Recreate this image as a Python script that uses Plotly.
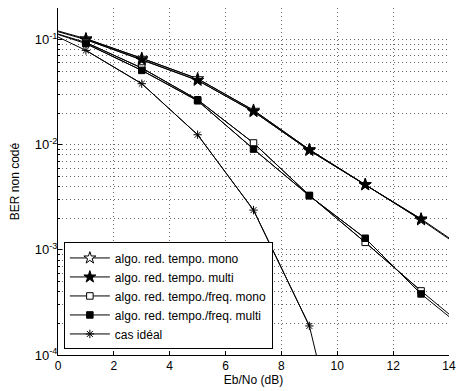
import math
import plotly.graph_objects as go

# ---------------- data ----------------
eb_no = [0, 1, 3, 5, 7, 9, 11, 13, 14]
ber_tempo_mono = [0.121, 0.102, 0.0665, 0.0425, 0.0213, 0.0090, 0.00418, 0.00193, 0.00127]
ber_tempo_multi = [0.119, 0.100, 0.0645, 0.0410, 0.0207, 0.00883, 0.00416, 0.00197, 0.00130]
ber_tf_mono = [0.113, 0.094, 0.0537, 0.0268, 0.0104, 0.0033, 0.00118, 0.000407, 0.000245]
ber_tf_multi = [0.112, 0.0916, 0.051, 0.0262, 0.0091, 0.00327, 0.00129, 0.000381, 0.000232]
eb_no_ideal = [0, 1, 3, 5, 7, 9, 10]
ber_ideal = [0.106, 0.079, 0.0381, 0.01245, 0.00239, 0.000189, 0.000015]

series_names = [
    "algo. red. tempo. mono",
    "algo. red. tempo. multi",
    "algo. red. tempo./freq. mono",
    "algo. red. tempo./freq. multi",
    "cas idéal",
]

x_tick_vals = [0, 2, 4, 6, 8, 10, 12, 14]
y_tick_vals = [1e-4, 1e-3, 1e-2, 1e-1]
y_tick_text = ["10<sup>-4</sup>", "10<sup>-3</sup>", "10<sup>-2</sup>", "10<sup>-1</sup>"]
y_minor_vals = [m * 10.0 ** e for e in range(-4, 0) for m in range(2, 10)] + [0.2]

# ---------------- styling ----------------
styles = [
    dict(symbol="star", color="white", size=9),
    dict(symbol="star", color="black", size=9),
    dict(symbol="square", color="white", size=6.5),
    dict(symbol="square", color="black", size=6.5),
    dict(symbol="asterisk-open", color="black", size=7),
]

all_series = [
    (eb_no, ber_tempo_mono),
    (eb_no, ber_tempo_multi),
    (eb_no, ber_tf_mono),
    (eb_no, ber_tf_multi),
    (eb_no_ideal, ber_ideal),
]

fig = go.Figure()
for i, ((xs, ys), name, st) in enumerate(zip(all_series, series_names, styles)):
    # full line (including end points without markers)
    fig.add_trace(go.Scatter(
        x=xs, y=ys, mode="lines", line=dict(color="black", width=1),
        showlegend=False, legendgroup=str(i), hoverinfo="skip"))
    # marked points (odd Eb/No values)
    mx = [x for x in xs if x % 2 == 1]
    my = [y for x, y in zip(xs, ys) if x % 2 == 1]
    fig.add_trace(go.Scatter(
        x=mx, y=my, mode="lines+markers", name=name, legendgroup=str(i),
        line=dict(color="black", width=1),
        marker=dict(symbol=st["symbol"], color=st["color"], size=st["size"],
                    line=dict(color="black", width=1))))

grid_col = "#666666"
grid_dash = "1px,3px"
tick_font = dict(family="Liberation Sans, Arial, sans-serif", size=12, color="black")
ytick_font = dict(family="Liberation Sans, Arial, sans-serif", size=13, color="black")

fig.update_layout(
    width=457, height=391,
    margin=dict(l=58, r=8, t=8, b=36),
    paper_bgcolor="white", plot_bgcolor="white",
    font=dict(family="Liberation Sans, Arial, sans-serif", size=12, color="black"),
    legend=dict(
        x=0.015, y=0.016, xanchor="left", yanchor="bottom",
        bgcolor="white", bordercolor="black", borderwidth=1,
        font=dict(size=12), tracegroupgap=0, itemwidth=40,
        entrywidth=217, entrywidthmode="pixels",
    ),
    xaxis=dict(
        range=[0, 14], tickvals=x_tick_vals, ticks="inside", ticklen=4,
        tickcolor="black", showline=True, linecolor="black", linewidth=1,
        showgrid=True, gridcolor=grid_col, griddash=grid_dash, gridwidth=1,
        zeroline=False, tickfont=tick_font,
        title=dict(text="Eb/No (dB)", standoff=2, font=dict(size=12)),
        automargin=False,
    ),
    yaxis=dict(
        type="log", range=[-4, math.log10(0.2)],
        tickmode="array", tickvals=y_tick_vals, ticktext=y_tick_text,
        ticks="inside", ticklen=4, tickcolor="black", tickfont=ytick_font,
        ticklabelstandoff=-3,
        showline=True, linecolor="black", linewidth=1,
        showgrid=True, gridcolor=grid_col, griddash=grid_dash, gridwidth=1,
        zeroline=False,
        minor=dict(tickvals=y_minor_vals, ticks="inside", ticklen=2,
                   tickcolor="black", showgrid=True, gridcolor=grid_col,
                   griddash=grid_dash, gridwidth=1),
        title=dict(text="BER non codé", standoff=12, font=dict(size=12)),
        automargin=False,
    ),
)

fig.write_html("out.html", config={"displayModeBar": False},
               post_script="document.body.style.margin='0';")
